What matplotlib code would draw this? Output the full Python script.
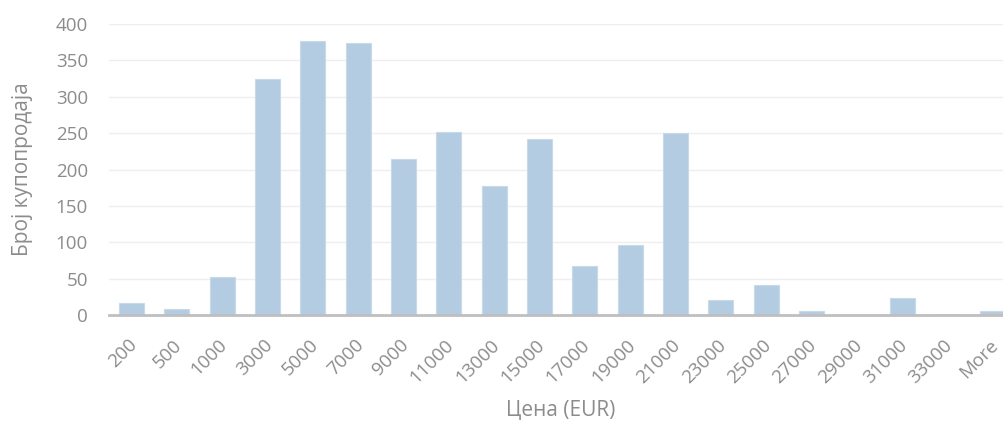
import matplotlib
matplotlib.use('Agg')
import matplotlib.pyplot as plt
import matplotlib.transforms as mtransforms

categories = ['200', '500', '1000', '3000', '5000', '7000', '9000', '11000', '13000',
              '15000', '17000', '19000', '21000', '23000', '25000', '27000', '29000',
              '31000', '33000', 'More']
counts = [16, 8, 52, 324, 377, 374, 214, 252, 177, 242, 68, 96, 250, 20, 41, 5, 0, 23, 2, 5]

plt.rcParams['font.family'] = ['Open Sans', 'DejaVu Sans']
grey = '#8c8c8c'

fig = plt.figure(figsize=(10.04, 4.21), dpi=100)
ax = fig.add_axes([0.1084, 0.2518, 0.903, 0.691])

x = range(len(categories))
ax.bar(x, counts, width=0.55, color='#b4cce1', edgecolor='#c8daea', linewidth=0.8, zorder=3)

ax.set_xlim(-0.5, len(categories) - 0.5)
ax.set_ylim(0, 400)
ax.set_yticks(range(0, 401, 50))
ax.set_xticks(list(x))
ax.set_xticklabels(categories, rotation=45, ha='right', rotation_mode='anchor')

ax.grid(axis='y', color='#efefef', linewidth=1, zorder=0)
for s in ['top', 'right', 'left']:
    ax.spines[s].set_visible(False)
ax.spines['bottom'].set_color('#bfbfbf')
ax.spines['bottom'].set_linewidth(2)
ax.spines['bottom'].set_zorder(4)

ax.tick_params(axis='both', length=0, labelsize=13.5, labelcolor=grey)
ax.tick_params(axis='x', pad=15)
ax.tick_params(axis='y', pad=15)

# nudge x tick labels a little to the left
shift = mtransforms.ScaledTranslation(-4 / 100, 0, fig.dpi_scale_trans)
for lbl in ax.get_xticklabels():
    lbl.set_transform(lbl.get_transform() + shift)

ax.set_ylabel('Број купопродаја', fontsize=15, color=grey)
ax.yaxis.set_label_coords(-0.084, 0.5)
fig.text(0.558, 0.0, 'Цена (EUR)', fontsize=15, color=grey, ha='center', va='bottom')

plt.savefig('out.png', dpi=100)
